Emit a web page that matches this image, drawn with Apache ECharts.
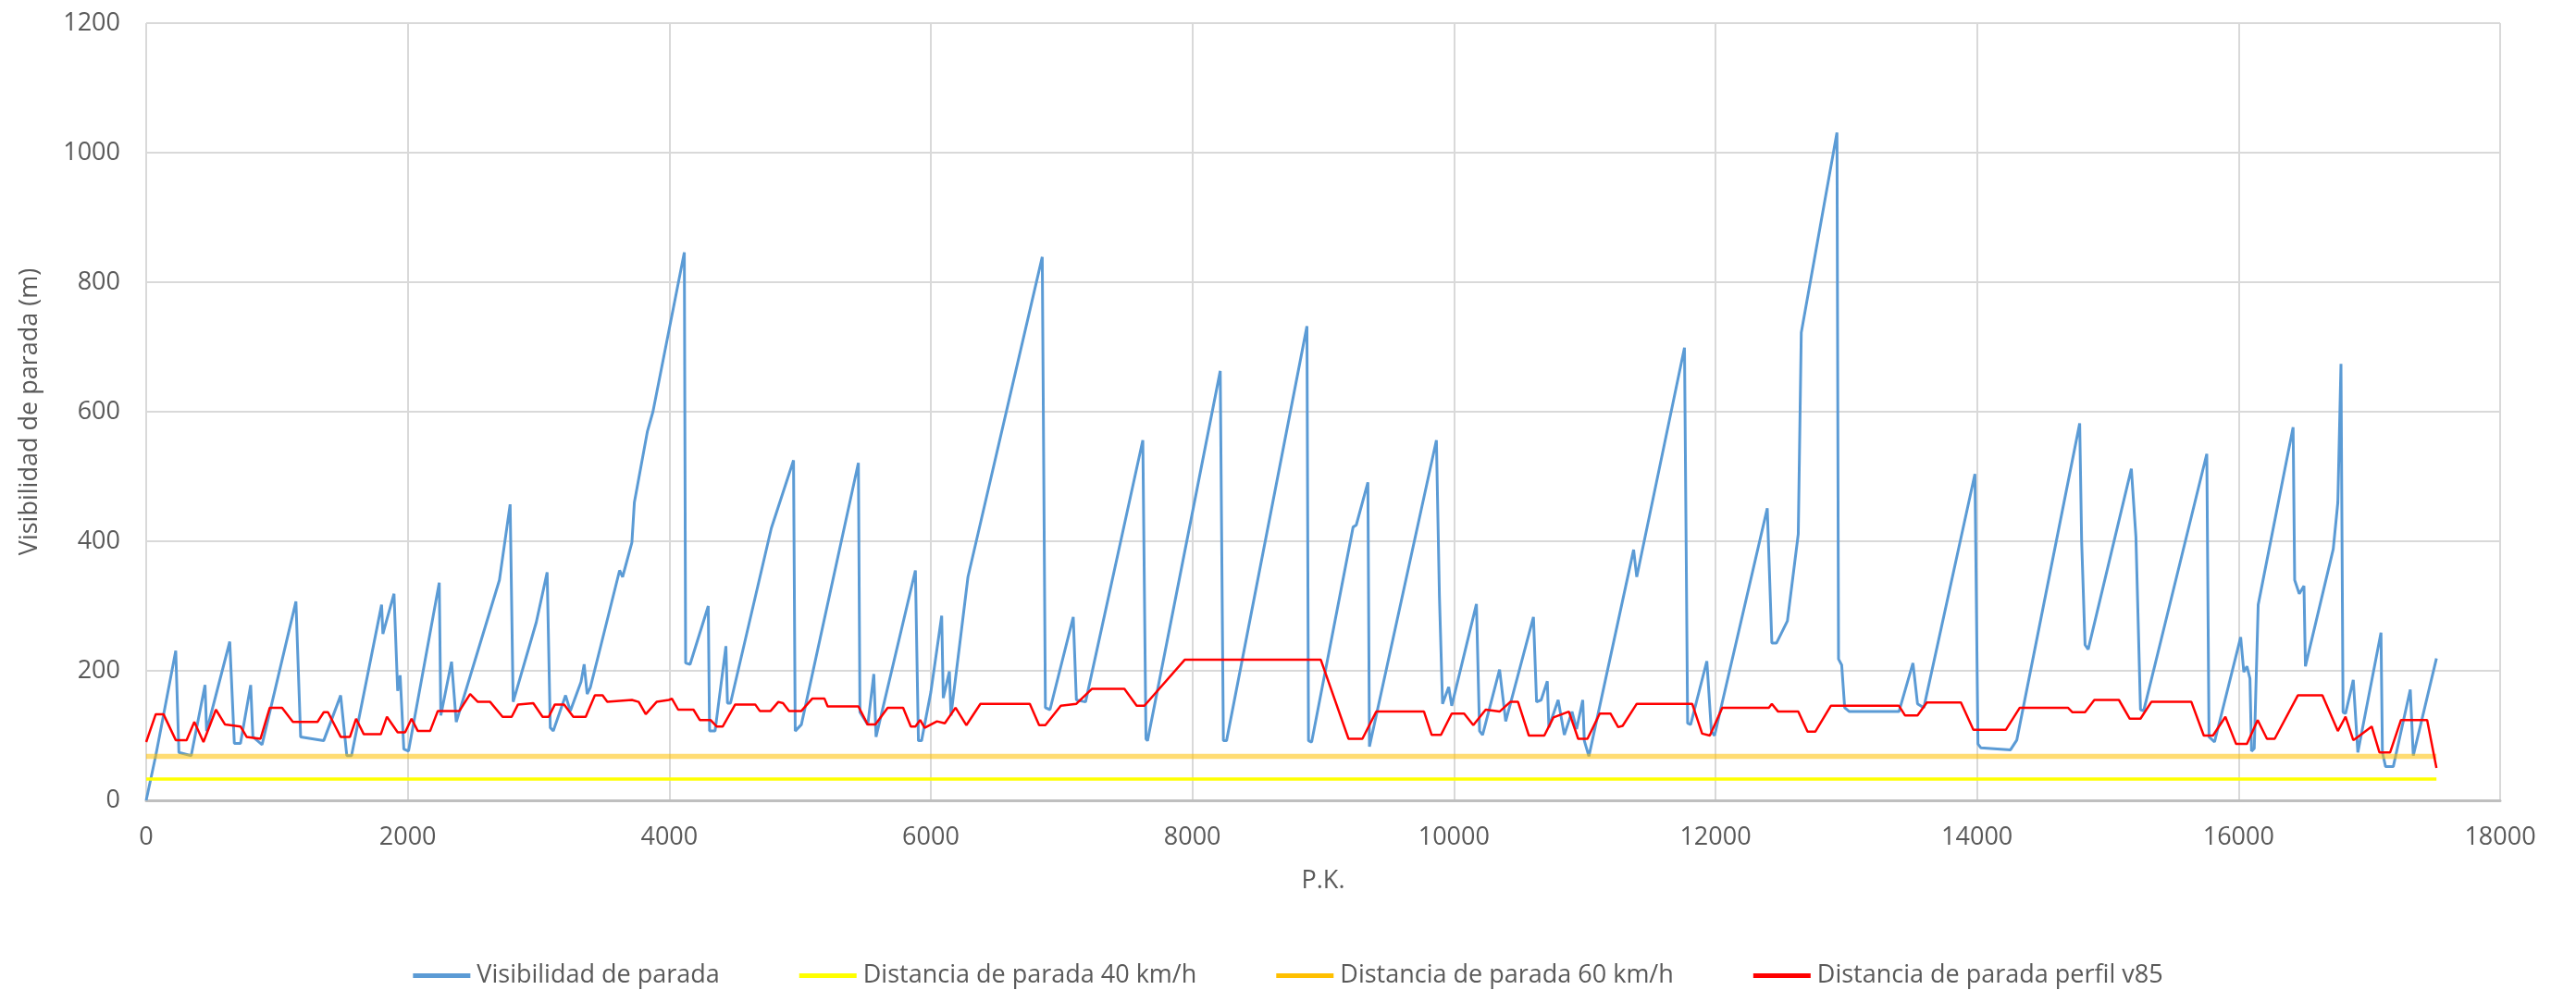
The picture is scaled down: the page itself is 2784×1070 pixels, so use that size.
<!DOCTYPE html>
<html>
<head>
<meta charset="utf-8">
<title>Visibilidad de parada</title>
<script src="https://cdn.jsdelivr.net/npm/echarts@6/dist/echarts.min.js"></script>
<style>
  html, body { margin: 0; padding: 0; background: #ffffff; }
  #chart { width: 2784px; height: 1070px; }
</style>
</head>
<body>
<div id="chart"></div>
<script>
// Visibilidad de parada a lo largo del trazado (P.K. en metros)
const visPk = [
  0, 73, 132, 226, 250, 344, 450, 462, 639, 674, 721, 799, 816, 886, 1145, 1181, 1357, 1487, 1534, 1570,
  1800, 1810, 1895, 1923, 1942, 1970, 2006, 2241, 2253, 2335, 2371, 2701, 2783, 2806, 2983, 3066, 3090, 3113,
  3207, 3243, 3325, 3349, 3372, 3396, 3478, 3620, 3643, 3714, 3733, 3832, 3875, 4115, 4125, 4159, 4298, 4308,
  4350, 4433, 4445, 4468, 4780, 4950, 4963, 5010, 5446, 5458, 5518, 5564, 5581, 5882, 5905, 5929, 6000, 6083,
  6095, 6107, 6142, 6154, 6284, 6852, 6876, 6911, 7089, 7113, 7183, 7621, 7645, 7657, 8213, 8237, 8261, 8876,
  8888, 8912, 9229, 9253, 9342, 9354, 9866, 9889, 9913, 9960, 9983, 10172, 10196, 10219, 10349, 10396, 10608,
  10632, 10667, 10714, 10726, 10797, 10844, 10903, 10938, 10985, 10997, 11032, 11374, 11398, 11763, 11787,
  11810, 11934, 11969, 11993, 12396, 12431, 12467, 12550, 12633, 12656, 12929, 12941, 12965, 12988, 13024,
  13403, 13510, 13545, 13593, 13984, 14007, 14030, 14256, 14304, 14785, 14800, 14826, 14850, 15180, 15215,
  15250, 15274, 15757, 15774, 15816, 16016, 16040, 16064, 16087, 16099, 16120, 16150, 16417, 16429, 16464,
  16500, 16511, 16724, 16759, 16783, 16799, 16818, 16877, 16912, 17089, 17100, 17124, 17183, 17313, 17336, 17513
];
const visVal = [
  0, 69, 131, 231, 74, 69, 178, 107, 245, 88, 88, 178, 98, 86, 307, 98, 92, 162, 69, 69,
  302, 257, 319, 169, 193, 79, 76, 336, 131, 214, 121, 340, 457, 152, 275, 352, 112, 107,
  162, 138, 183, 210, 164, 174, 240, 355, 345, 398, 460, 569, 600, 846, 212, 210, 300, 107,
  107, 238, 150, 150, 420, 525, 107, 117, 521, 136, 117, 195, 98, 355, 92, 92, 167, 285,
  158, 160, 199, 131, 345, 839, 143, 140, 283, 155, 152, 556, 95, 92, 663, 92, 92, 732,
  92, 90, 422, 425, 491, 83, 556, 315, 149, 175, 146, 303, 107, 101, 202, 122, 283,
  152, 155, 184, 113, 155, 101, 137, 110, 155, 92, 68, 387, 345, 699, 119,
  117, 215, 106, 100, 451, 243, 243, 277, 411, 722, 1031, 218, 209, 143, 137,
  137, 212, 149, 143, 504, 87, 81, 78, 93, 582, 400, 240, 233, 512, 407,
  140, 138, 535, 98, 90, 252, 198, 207, 188, 76, 80, 302, 576, 340, 319,
  331, 207, 388, 460, 674, 136, 134, 186, 74, 259, 74, 52, 52, 171, 69, 219
];

// Distancia de parada según el perfil de velocidades v85
const v85Pk = [
  0, 73, 132, 226, 309, 368, 438, 533, 603, 721, 768, 874, 945, 1039, 1122, 1310, 1358, 1390, 1487, 1558,
  1605, 1664, 1794, 1841, 1923, 1980, 2029, 2077, 2171, 2230, 2395, 2477, 2536, 2630, 2725, 2795, 2843, 2960,
  3031, 3078, 3125, 3196, 3266, 3361, 3431, 3490, 3526, 3714, 3766, 3820, 3903, 3997, 4020, 4068, 4185, 4233,
  4315, 4362, 4409, 4504, 4657, 4692, 4775, 4834, 4870, 4916, 5010, 5093, 5187, 5211, 5446, 5517, 5576, 5670,
  5788, 5847, 5882, 5918, 5953, 6047, 6107, 6189, 6272, 6379, 6757, 6828, 6876, 6994, 7113, 7231, 7480, 7574,
  7633, 7941, 8982, 9194, 9300, 9406, 9771, 9830, 9901, 9983, 10078, 10148, 10243, 10349, 10431, 10490, 10573,
  10691, 10761, 10879, 10950, 11021, 11115, 11197, 11256, 11290, 11398, 11822, 11898, 11957, 12052, 12408,
  12431, 12479, 12633, 12704, 12763, 12882, 13403, 13450, 13545, 13616, 13877, 13972, 14221, 14327, 14695,
  14730, 14826, 14897, 15085, 15168, 15250, 15333, 15639, 15734, 15804, 15899, 15981, 16064, 16146, 16217,
  16276, 16453, 16641, 16759, 16818, 16877, 16912, 17018, 17077, 17159, 17242, 17442, 17513
];
const v85Val = [
  90, 133, 133, 93, 93, 121, 90, 140, 117, 114, 98, 95, 143, 143, 121, 121, 136, 136, 98, 98,
  126, 102, 102, 129, 105, 105, 126, 107, 107, 138, 138, 164, 152, 152, 129, 129, 148, 150,
  129, 129, 148, 148, 129, 129, 162, 162, 152, 155, 152, 133, 152, 155, 157, 140, 140, 124,
  124, 114, 114, 148, 148, 138, 138, 152, 150, 138, 138, 157, 157, 145, 145, 117, 117, 143,
  143, 114, 114, 124, 112, 122, 119, 143, 116, 149, 149, 116, 116, 146, 149, 172, 172, 146,
  146, 217, 217, 95, 95, 137, 137, 101, 101, 134, 134, 116, 140, 137, 152, 152, 100,
  100, 128, 137, 95, 95, 134, 134, 113, 115, 149, 149, 103, 100, 143, 143,
  149, 137, 137, 106, 106, 146, 146, 131, 131, 151, 151, 109, 109, 143, 143,
  136, 136, 155, 155, 126, 126, 152, 152, 100, 100, 129, 87, 87, 124, 95,
  95, 162, 162, 107, 129, 93, 98, 114, 74, 74, 124, 124, 50
];

// Distancias de parada de referencia (m) y extremos del tramo
const dist40 = 33;
const dist60 = 68;
const pkRange = [0, 17513];

const seriesNames = [
  'Visibilidad de parada',
  'Distancia de parada 40 km/h',
  'Distancia de parada 60 km/h',
  'Distancia de parada perfil v85'
];

const xTicks = { min: 0, max: 18000, interval: 2000 };
const yTicks = { min: 0, max: 1200, interval: 200 };

function pairs(xs, ys) {
  return xs.map((x, i) => [x, ys[i]]);
}

// Etiquetas sin separador de miles
const plain = v => String(v);

const FONT = '"Open Sans", "DejaVu Sans", sans-serif';
const TEXT = '#595959';

const chart = echarts.init(document.getElementById('chart'), null, { renderer: 'canvas' });

chart.setOption({
  animation: false,
  backgroundColor: '#ffffff',
  textStyle: { fontFamily: FONT, color: TEXT },
  grid: { left: 158, right: 82, top: 25, bottom: 205, containLabel: false },
  legend: {
    data: seriesNames,
    left: 'center',
    top: 1036,
    icon: 'rect',
    itemWidth: 62,
    itemHeight: 5,
    itemGap: 86,
    textStyle: { fontFamily: FONT, fontSize: 27, color: TEXT, padding: [0, 0, 0, 2] }
  },
  xAxis: {
    type: 'value',
    min: xTicks.min,
    max: xTicks.max,
    interval: xTicks.interval,
    name: 'P.K.',
    nameLocation: 'middle',
    nameGap: 74,
    nameTextStyle: { fontFamily: FONT, fontSize: 27, color: TEXT },
    axisLine: { show: true, lineStyle: { color: '#BFBFBF', width: 3 } },
    axisTick: { show: false },
    axisLabel: { fontFamily: FONT, fontSize: 27, color: TEXT, margin: 27, formatter: plain },
    splitLine: { show: true, lineStyle: { color: '#D9D9D9', width: 2 } }
  },
  yAxis: {
    type: 'value',
    min: yTicks.min,
    max: yTicks.max,
    interval: yTicks.interval,
    name: 'Visibilidad de parada (m)',
    nameLocation: 'middle',
    nameGap: 112,
    nameTextStyle: { fontFamily: FONT, fontSize: 27, color: TEXT },
    axisLine: { show: false },
    axisTick: { show: false },
    axisLabel: { fontFamily: FONT, fontSize: 27, color: TEXT, margin: 28, formatter: plain },
    splitLine: { show: true, lineStyle: { color: '#D9D9D9', width: 2 } }
  },
  series: [
    {
      name: seriesNames[0],
      type: 'line',
      data: pairs(visPk, visVal),
      symbol: 'none',
      color: '#5B9BD5',
      lineStyle: { color: '#5B9BD5', width: 3 },
      z: 2
    },
    {
      name: seriesNames[1],
      type: 'line',
      data: pkRange.map(x => [x, dist40]),
      symbol: 'none',
      color: '#FFFF00',
      lineStyle: { color: '#FFFF00', width: 3.5 },
      z: 3
    },
    {
      name: seriesNames[2],
      type: 'line',
      data: pkRange.map(x => [x, dist60]),
      symbol: 'none',
      color: '#FFC000',
      lineStyle: { color: 'rgba(255,192,0,0.55)', width: 5.5 },
      z: 4
    },
    {
      name: seriesNames[3],
      type: 'line',
      data: pairs(v85Pk, v85Val),
      symbol: 'none',
      color: '#FF0000',
      lineStyle: { color: '#FF0000', width: 2.5 },
      z: 5
    }
  ]
});
</script>
</body>
</html>
